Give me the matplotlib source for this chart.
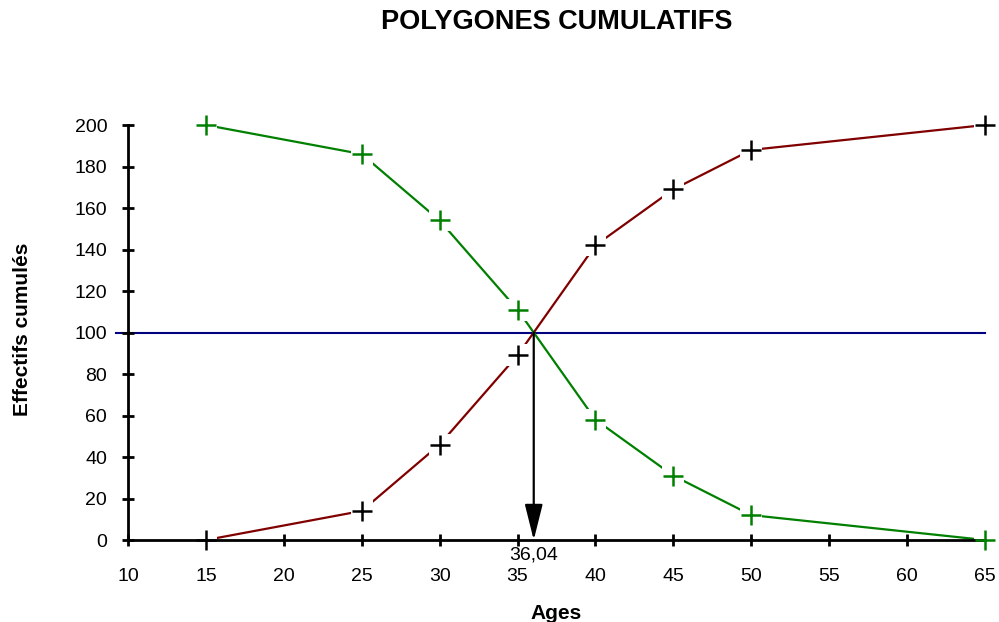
import matplotlib
matplotlib.use('Agg')
import matplotlib.pyplot as plt

plt.rcParams['font.family'] = ['Liberation Sans', 'DejaVu Sans']

# Cumulative frequencies by age
ages = [15, 25, 30, 35, 40, 45, 50, 65]
croissant = [0, 14, 46, 89, 142, 169, 188, 200]
decroissant = [200, 186, 154, 111, 58, 31, 12, 0]
mediane = 36.04
effectif_median = 100
xticks = [10, 15, 20, 25, 30, 35, 40, 45, 50, 55, 60, 65]
yticks = [0, 20, 40, 60, 80, 100, 120, 140, 160, 180, 200]

fig = plt.figure(figsize=(9.99, 6.22), dpi=100)
ax = fig.add_axes([0.1281, 0.1318, 0.8579, 0.6672])

# lines, with a white gap around each marker
ax.plot(ages, croissant, color='#800000', lw=1.6, zorder=2)
ax.plot(ages, decroissant, color='#008000', lw=1.6, zorder=2)
for serie in [croissant, decroissant]:
    ax.plot(ages, serie, 's', color='white', ms=16, mew=0, zorder=2.2, clip_on=False)
ax.plot(ages, croissant, '+', color='black', ms=14.5, mew=1.8, zorder=3, clip_on=False)
ax.plot(ages, decroissant, '+', color='#008000', ms=14.5, mew=1.8, zorder=3, clip_on=False)

ax.axhline(effectif_median, xmin=-0.014, xmax=1, color='#000080', lw=1.5,
           zorder=1.5, clip_on=False)
ax.annotate('', xy=(mediane, 0), xytext=(mediane, effectif_median),
            arrowprops=dict(arrowstyle='-|>,head_length=2.2,head_width=0.55',
                            color='black', lw=1.6, mutation_scale=10,
                            shrinkA=0, shrinkB=0),
            zorder=4)
ax.annotate('36,04', xy=(mediane, 0), xytext=(0, -5), textcoords='offset points',
            ha='center', va='top', fontsize=14)

ax.set_xlim(10, 65)
ax.set_ylim(0, 200)
ax.set_xticks(xticks)
ax.set_yticks(yticks)
ax.tick_params(direction='inout', length=8, width=2, labelsize=14)
ax.tick_params(axis='x', pad=16)
ax.tick_params(axis='y', pad=11)
for s in ['top', 'right']:
    ax.spines[s].set_visible(False)
for s in ['left', 'bottom']:
    ax.spines[s].set_linewidth(2)
    ax.spines[s].set_zorder(2.5)

ax.set_xlabel('Ages', fontsize=15, fontweight='bold', labelpad=14)
fig.text(23 / 999, 1 - 329 / 622, 'Effectifs cumulés', rotation=90,
         ha='center', va='center', fontsize=15, fontweight='bold')
fig.text(0.557, 1 - 22 / 622, 'POLYGONES CUMULATIFS', ha='center', va='center',
         fontsize=19.5, fontweight='bold')

plt.savefig('out.png', dpi=100)
